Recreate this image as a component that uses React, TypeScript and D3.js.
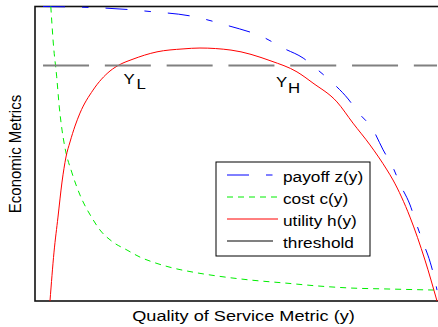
import React from 'react';
import * as d3 from 'd3';

// Payoff z(y)
const payoffQ = [0.020, 0.132, 0.229, 0.286, 0.386, 0.475, 0.572, 0.617, 0.667, 0.704, 0.741, 0.779, 0.803, 0.841, 0.866, 0.891, 0.908, 0.933, 0.948, 0.965, 0.983, 0.993, 1.0];
const payoffZ = [1.0, 0.997, 0.990, 0.983, 0.968, 0.937, 0.893, 0.859, 0.825, 0.784, 0.740, 0.686, 0.642, 0.581, 0.513, 0.452, 0.397, 0.326, 0.265, 0.200, 0.132, 0.081, 0.037];

// Cost c(y)
const costQ = [0.0393, 0.0415, 0.0455, 0.0540, 0.0604, 0.0672, 0.0746, 0.0920, 0.1119, 0.1418, 0.1617, 0.1940, 0.2289, 0.2612, 0.2935, 0.3433, 0.3930, 0.4527, 0.5373, 0.6219, 0.7040, 0.7861, 0.8706, 1.0];
const costC = [1.0, 0.954, 0.876, 0.761, 0.659, 0.581, 0.520, 0.435, 0.360, 0.282, 0.241, 0.200, 0.173, 0.149, 0.132, 0.112, 0.098, 0.085, 0.071, 0.061, 0.051, 0.044, 0.041, 0.037];

// Utility h(y)
const utilityQ = [0.0373, 0.0473, 0.0572, 0.0672, 0.0771, 0.0871, 0.0995, 0.1119, 0.1443, 0.1866, 0.2114, 0.2413, 0.3035, 0.3682, 0.4104, 0.4876, 0.5871, 0.6517, 0.6915, 0.7512, 0.7910, 0.8333, 0.8756, 0.8905, 0.9328, 0.9701, 1.0];
const utilityH = [0.0, 0.166, 0.285, 0.404, 0.489, 0.540, 0.594, 0.638, 0.716, 0.781, 0.803, 0.820, 0.846, 0.856, 0.859, 0.852, 0.815, 0.778, 0.740, 0.676, 0.604, 0.530, 0.445, 0.411, 0.285, 0.139, 0.0];

// Threshold level and its extent
const thresholdQ = [0.02, 1.0];
const thresholdLevel = 0.8;

const legendLabels = ['payoff z(y)', 'cost c(y)', 'utility h(y)', 'threshold'];

const W = 438;
const H = 327;
const FONT = '"Liberation Sans", Arial, Helvetica, sans-serif';

const xScale = d3.scaleLinear().domain([0, 1]).range([35, 437]);
const yScale = d3.scaleLinear().domain([0, 1]).range([301, 6.5]);

function pathFor(qs: number[], vs: number[]) {
  const gen = d3
    .line<number>()
    .x((_, i) => xScale(qs[i]))
    .y((d) => yScale(d))
    .curve(d3.curveMonotoneX);
  return gen(vs) || '';
}

const styles = [
  { stroke: '#0000ff', dash: '22,17,6.5,17', width: 1 },
  { stroke: '#00ee00', dash: '6,5', width: 1 },
  { stroke: '#ff0000', dash: undefined as string | undefined, width: 1 },
  { stroke: '#808080', dash: '46,15.8', width: 2 },
];

function Label({ x, y, size, sx, children, anchor = 'start', rotate = 0 }: any) {
  return (
    <text
      transform={`translate(${x},${y}) scale(${sx},1)${rotate ? ` rotate(${rotate})` : ''}`}
      fontFamily={FONT}
      fontSize={size}
      textAnchor={anchor}
      fill="#000"
    >
      {children}
    </text>
  );
}

export default function App() {
  const series = [
    pathFor(payoffQ, payoffZ),
    pathFor(costQ, costC),
    pathFor(utilityQ, utilityH),
    d3.line()([
      [xScale(thresholdQ[0]), yScale(thresholdLevel)],
      [xScale(thresholdQ[1]), yScale(thresholdLevel)],
    ]) || '',
  ];

  const legendX = 216;
  const legendY = 162;
  const rowY = [175, 197, 219, 241];

  return (
    <svg
      width={W}
      height={H}
      style={{ position: 'absolute', left: 0, top: 0, background: '#fff' }}
    >
      <rect x={0} y={0} width={W} height={H} fill="#fff" />
      <rect x={35} y={6.5} width={420} height={294.5} fill="none" stroke="#111" strokeWidth={1.6} />

      {series.map((d, i) => (
        <path
          key={i}
          d={d}
          fill="none"
          stroke={styles[i].stroke}
          strokeWidth={styles[i].width}
          strokeDasharray={styles[i].dash}
        />
      ))}

      {/* crossing labels */}
      <Label x={123.5} y={84} size={14} sx={1.2}>Y</Label>
      <Label x={136.5} y={89} size={14} sx={1.2}>L</Label>
      <Label x={276} y={87} size={14} sx={1.2}>Y</Label>
      <Label x={288} y={93} size={14} sx={1.2}>H</Label>

      {/* legend */}
      <rect x={legendX} y={legendY} width={154} height={94} fill="#fff" stroke="#000" strokeWidth={1} />
      {legendLabels.map((lab, i) => (
        <g key={lab}>
          <line
            x1={227}
            x2={278}
            y1={rowY[i]}
            y2={rowY[i]}
            stroke={styles[i].stroke}
            strokeWidth={styles[i].width}
            strokeDasharray={styles[i].dash}
          />
          <Label x={283} y={rowY[i] + 6.5} size={14.5} sx={1.19}>{lab}</Label>
        </g>
      ))}

      {/* axis titles */}
      <Label x={243.5} y={320.5} size={15.5} sx={1.17} anchor="middle">Quality of Service Metric (y)</Label>
      <Label x={20.5} y={154} size={15} sx={1.16} anchor="middle" rotate={-90}>Economic Metrics</Label>
    </svg>
  );
}
